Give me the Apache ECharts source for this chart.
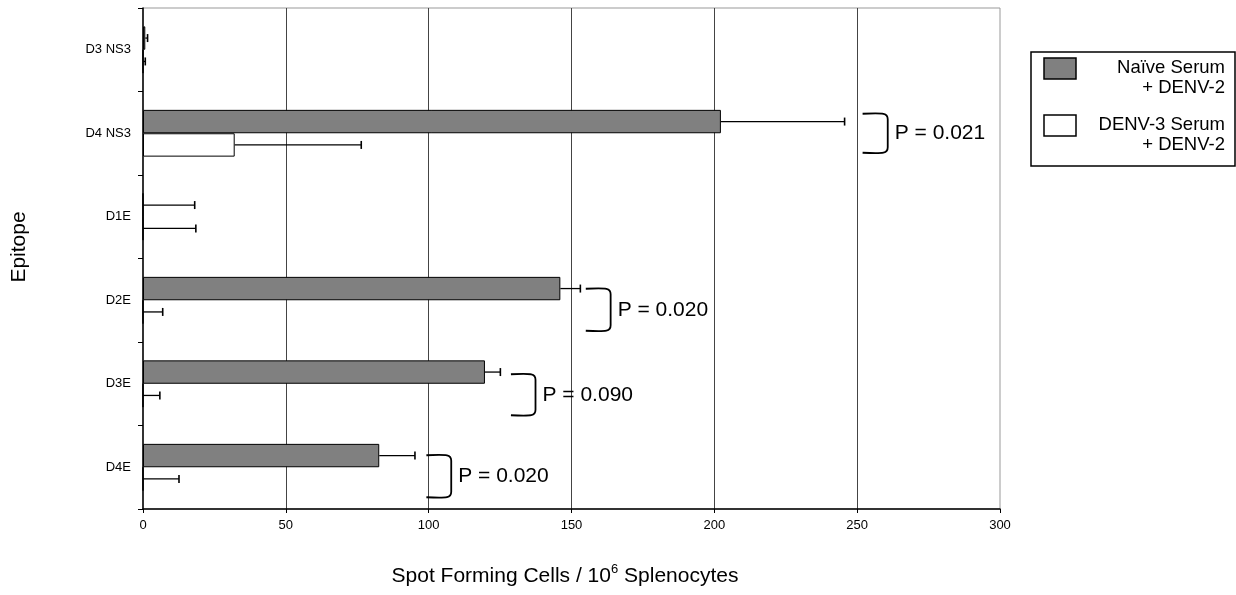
<!DOCTYPE html>
<html><head><meta charset="utf-8">
<script src="https://cdn.jsdelivr.net/npm/echarts@6/dist/echarts.min.js"></script>
<style>html,body{margin:0;padding:0;background:#fff}#c{width:1236px;height:595px}</style>
</head><body><div id="c"></div>
<script>
// ---- data ----
const categories = ['D3 NS3', 'D4 NS3', 'D1E', 'D2E', 'D3E', 'D4E'];
const naiveValues = [0.8, 202.3, 0, 146.1, 119.7, 82.7];
const naiveErrors = [0.8, 43.3, 18.1, 7.0, 5.4, 12.5];
const denv3Values = [0, 32.1, 0, 0, 0, 0];
const denv3Errors = [0.8, 44.3, 18.5, 6.9, 5.9, 12.6];
const xTicks = [0, 50, 100, 150, 200, 250, 300];
const seriesNames = ['Naïve Serum\n+ DENV-2', 'DENV-3 Serum\n+ DENV-2'];
const pCategories = ['D4 NS3', 'D2E', 'D3E', 'D4E'];
const pLabels = ['P = 0.021', 'P = 0.020', 'P = 0.090', 'P = 0.020'];
const bracketLeft = [251.9, 155.0, 128.8, 99.2];
const bracketRight = [260.7, 163.7, 137.4, 107.9];
// layout of brackets (pixels): vertical shift of centre and half height
const bracketShift = [0, 9.5, 11, 9];
const bracketHalf = [20, 21.5, 21, 21.5];

const FONT = "'Liberation Sans', Arial, sans-serif";
const chart = echarts.init(document.getElementById('c'), null, {renderer: 'canvas'});

const BAR_FRAC = 0.28;

function errData(values, errors) {
  return values.map((v, i) => [v, i, errors[i]]);
}
function errRender(side) {
  return function (params, api) {
    const v = api.value(0), c = api.value(1), e = api.value(2);
    const band = api.size([0, 1])[1];
    const off = side * band * BAR_FRAC / 2;
    const p0 = api.coord([v, c]);
    const p1 = api.coord([v + e, c]);
    const y = p0[1] + off;
    const st = {stroke: '#000', lineWidth: 1.3};
    return {
      type: 'group',
      children: [
        {type: 'line', shape: {x1: p0[0], y1: y, x2: p1[0], y2: y}, style: st},
        {type: 'line', shape: {x1: p1[0], y1: y - 4, x2: p1[0], y2: y + 4}, style: {stroke: '#000', lineWidth: 1.6}}
      ]
    };
  };
}

const bracketData = pCategories.map((c, i) => [bracketLeft[i], categories.indexOf(c), bracketRight[i], i]);

const option = {
  backgroundColor: '#fff',
  animation: false,
  textStyle: {fontFamily: FONT},
  grid: {left: 143, right: 236, top: 8, bottom: 86, show: true, borderColor: '#999', borderWidth: 1, containLabel: false},
  xAxis: {
    type: 'value', min: xTicks[0], max: xTicks[xTicks.length - 1], interval: 50,
    axisLine: {show: true, lineStyle: {color: '#000', width: 1.5}},
    axisTick: {show: true, length: 4, lineStyle: {color: '#000', width: 1}},
    axisLabel: {color: '#000', fontSize: 13, margin: 10, fontFamily: FONT},
    splitLine: {show: true, showMinLine: false, showMaxLine: false, lineStyle: {color: '#444', width: 1}}
  },
  yAxis: {
    type: 'category', data: categories, inverse: true,
    axisLine: {show: true, onZero: false, lineStyle: {color: '#000', width: 1.5}},
    axisTick: {show: true, length: 5, lineStyle: {color: '#000', width: 1}},
    axisLabel: {color: '#000', fontSize: 13, margin: 12, fontFamily: FONT},
    splitLine: {show: false}
  },
  series: [
    {
      name: seriesNames[0], type: 'bar', data: naiveValues, barWidth: (BAR_FRAC * 100) + '%', barGap: '0%',
      itemStyle: {color: '#808080', borderColor: '#000', borderWidth: 1}, z: 2
    },
    {
      name: seriesNames[1], type: 'bar', data: denv3Values, barWidth: (BAR_FRAC * 100) + '%', barGap: '0%',
      itemStyle: {color: '#fff', borderColor: '#000', borderWidth: 1}, z: 2
    },
    {type: 'custom', data: errData(naiveValues, naiveErrors), encode: {x: 0, y: 1}, renderItem: errRender(-1), z: 5, silent: true},
    {type: 'custom', data: errData(denv3Values, denv3Errors), encode: {x: 0, y: 1}, renderItem: errRender(1), z: 5, silent: true},
    {
      type: 'custom', data: bracketData, encode: {x: [0, 2], y: 1}, z: 6, silent: true,
      renderItem: function (params, api) {
        const i = api.value(3);
        const pl = api.coord([api.value(0), api.value(1)]);
        const pr = api.coord([api.value(2), api.value(1)]);
        const cy = pl[1] + bracketShift[i];
        const T = cy - bracketHalf[i], B = cy + bracketHalf[i];
        const L = pl[0], R = pr[0];
        const d = 'M' + L + ' ' + (T + 0.5) + ' C' + (R - 3) + ' ' + (T - 0.5) + ' ' + R + ' ' + T + ' ' + R + ' ' + (T + 6) +
          ' L' + R + ' ' + (B - 6) + ' C' + R + ' ' + B + ' ' + (R - 3) + ' ' + (B + 0.5) + ' ' + L + ' ' + (B - 0.5);
        return {
          type: 'group',
          children: [
            {type: 'path', shape: {pathData: d}, style: {stroke: '#000', lineWidth: 1.8, fill: null}},
            {type: 'text', x: R + 7, y: cy, style: {text: pLabels[i], fontSize: 21, fontFamily: FONT, fill: '#000', align: 'left', verticalAlign: 'middle'}}
          ]
        };
      }
    }
  ],
  graphic: [
    {type: 'text', x: 19, y: 247, rotation: Math.PI / 2,
      style: {text: 'Epitope', fontSize: 21, fontFamily: FONT, fill: '#000', align: 'center', verticalAlign: 'middle'}},
    {type: 'text', x: 565, y: 576,
      style: {text: '{a|Spot Forming Cells / 10}{s|6}{a| Splenocytes}', align: 'center', verticalAlign: 'middle', fill: '#000',
        rich: {a: {fontSize: 21, lineHeight: 26, fontFamily: FONT, fill: '#000'}, s: {fontSize: 13, lineHeight: 13, verticalAlign: 'top', fontFamily: FONT, fill: '#000'}}}},
    {type: 'rect', shape: {x: 1031, y: 52, width: 204, height: 114}, style: {fill: '#fff', stroke: '#000', lineWidth: 1.5}},
    {type: 'rect', shape: {x: 1044, y: 58, width: 32, height: 21}, style: {fill: '#808080', stroke: '#000', lineWidth: 1.5}},
    {type: 'rect', shape: {x: 1044, y: 115, width: 32, height: 21}, style: {fill: '#fff', stroke: '#000', lineWidth: 1.5}},
    {type: 'text', x: 1225, y: 78, style: {text: seriesNames[0], fontSize: 18.5, lineHeight: 20, fontFamily: FONT, fill: '#000', align: 'right', verticalAlign: 'middle'}},
    {type: 'text', x: 1225, y: 135, style: {text: seriesNames[1], fontSize: 18.5, lineHeight: 20, fontFamily: FONT, fill: '#000', align: 'right', verticalAlign: 'middle'}}
  ]
};
chart.setOption(option);
</script>
</body></html>
